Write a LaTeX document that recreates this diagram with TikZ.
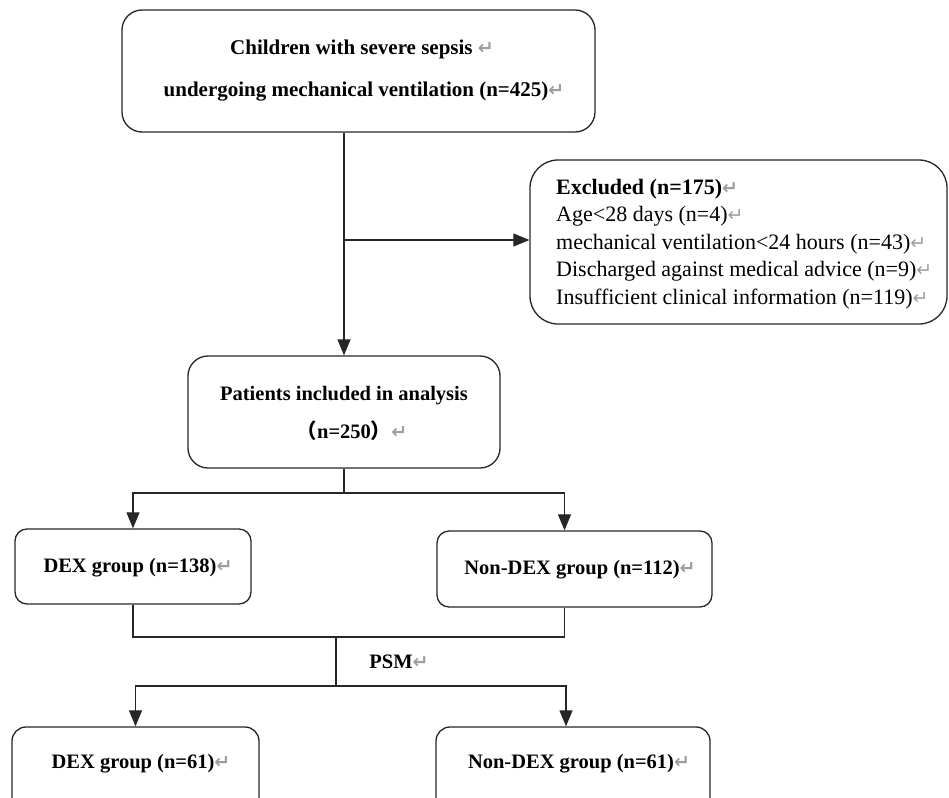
\documentclass[tikz,border=0pt]{standalone}
\usepackage{fontspec}
\setmainfont{Liberation Serif}
\newfontfamily\symfont{DejaVu Sans}
\newfontfamily\cjkfont{Noto Sans CJK SC}
\usetikzlibrary{arrows.meta}
\definecolor{mk}{gray}{0.62}
\definecolor{ln}{gray}{0.15}
\newcommand{\pmark}{{\symfont\color{mk}\fontsize{19}{19}\selectfont ↵}}
\begin{document}
\begin{tikzpicture}[x=1pt,y=-1pt,
  box/.style={draw=ln, line width=1.3pt, inner sep=0pt},
  conn/.style={draw=ln, line width=1.2pt},
  arr/.style={conn, -{Triangle[length=16pt,width=13pt]}},
  bt/.style={font=\bfseries\fontsize{20.5}{24}\selectfont, inner sep=0pt, anchor=base},
  tt/.style={font=\bfseries\fontsize{21}{24}\selectfont, inner sep=0pt, anchor=base},
  rt/.style={font=\fontsize{22}{24}\selectfont, inner sep=0pt, anchor=base west}]
\useasboundingbox (0,0) rectangle (949,797);
\clip (0,0) rectangle (949,797);
% boxes
\node[box, rounded corners=20pt, minimum width=473pt, minimum height=122pt] (top) at (358.5,71) {};
\node[box, rounded corners=28pt, minimum width=417pt, minimum height=164pt] (excl) at (738.5,242) {};
\node[box, rounded corners=20pt, minimum width=312pt, minimum height=112pt] (pat) at (344,412) {};
\node[box, rounded corners=12pt, minimum width=236pt, minimum height=75pt] (dexa) at (133,566.5) {};
\node[box, rounded corners=12pt, minimum width=275pt, minimum height=76pt] (ndexa) at (574.5,569) {};
\node[box, rounded corners=14pt, minimum width=247pt, minimum height=93pt] (dexb) at (135.5,773.5) {};
\node[box, rounded corners=14pt, minimum width=274pt, minimum height=93pt] (ndexb) at (573,773.5) {};
% texts
\node[tt] (t1) at (362,55) {Children with severe sepsis \pmark};
\node[tt] (t2) at (364,96) {undergoing mechanical ventilation (n=425)\pmark};
\node[rt] (e1) at (556,194) {\bfseries Excluded (n=175)\pmark};
\node[rt] (e2) at (556,221.5) {Age<28 days (n=4)\pmark};
\node[rt] (e3) at (556,249) {mechanical ventilation<24 hours (n=43)\pmark};
\node[rt] (e4) at (556,276.5) {Discharged against medical advice (n=9)\pmark};
\node[rt] (e5) at (556,304) {Insufficient clinical information (n=119)\pmark};
\node[bt] (p1) at (344,400) {Patients included in analysis};
\node[bt] (p2) at (352,438) {{\cjkfont （}n=250{\cjkfont ）}\pmark};
\node[bt] (d1) at (138,572) {DEX group (n=138)\pmark};
\node[bt] (n1) at (580,574) {Non-DEX group (n=112)\pmark};
\node[bt] (psm) at (399,668) {PSM\pmark};
\node[bt] (d2) at (141,768) {DEX group (n=61)\pmark};
\node[bt] (n2) at (579,768) {Non-DEX group (n=61)\pmark};
% connectors
\draw[arr] (top.south -| pat.north) -- (pat.north);
\coordinate (j1) at (344,240);
\draw[arr] (j1) -- (j1 -| excl.west);
\coordinate (j2) at (344,493);
\coordinate (na) at ([xshift=-10pt]ndexa.north);
\draw[conn] (pat.south) -- (j2);
\draw[arr] (j2) -| (dexa.north);
\draw[arr] (j2) -| (na);
\coordinate (j3) at (336,637);
\coordinate (ns) at ([xshift=-10pt]ndexa.south);
\draw[conn] (dexa.south) |- (j3) -| (ns);
\coordinate (j4) at (336,686);
\coordinate (nb) at ([xshift=-7pt]ndexb.north);
\draw[conn] (j3) -- (j4);
\draw[arr] (j4) -| (dexb.north);
\draw[arr] (j4) -| (nb);
\end{tikzpicture}
\end{document}
